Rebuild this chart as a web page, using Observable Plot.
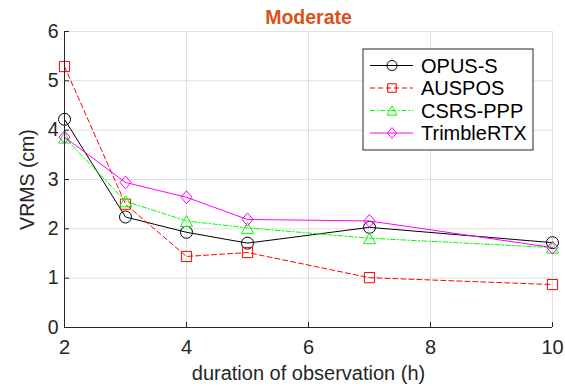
<!DOCTYPE html>
<html>
<head>
<meta charset="utf-8">
<script src="https://cdn.jsdelivr.net/npm/d3@7"></script>
<script src="https://cdn.jsdelivr.net/npm/@observablehq/plot@0.6"></script>
<style>
  html, body { margin: 0; padding: 0; background: #fff; }
  #chart svg { display: block; }
</style>
</head>
<body>
<div id="chart"></div>
<script>
// Observation durations (hours)
const hours = [2, 3, 4, 5, 7, 10];

// Vertical RMS error (cm) per processing service
const opusS = [4.22, 2.24, 1.93, 1.71, 2.03, 1.72];
const auspos = [5.29, 2.50, 1.44, 1.52, 1.01, 0.87];
const csrsPPP = [3.85, 2.56, 2.16, 2.02, 1.81, 1.62];
const trimbleRTX = [3.86, 2.94, 2.64, 2.19, 2.16, 1.62];

const seriesNames = ["OPUS-S", "AUSPOS", "CSRS-PPP", "TrimbleRTX"];
const seriesValues = [opusS, auspos, csrsPPP, trimbleRTX];

const xTicks = [2, 4, 6, 8, 10];
const yTicks = [0, 1, 2, 3, 4, 5, 6];

const titleText = "Moderate";
const xLabel = "duration of observation (h)";
const yLabel = "VRMS (cm)";

// Hollow marker shapes sized from the dot radius
const circleSym = {
  draw(ctx, size) {
    const r = Math.sqrt(size / Math.PI);
    ctx.moveTo(r, 0);
    ctx.arc(0, 0, r, 0, 2 * Math.PI);
  }
};
const squareSym = {
  draw(ctx, size) {
    const h = Math.sqrt(size / Math.PI) * 0.85;
    ctx.moveTo(-h, -h); ctx.lineTo(h, -h); ctx.lineTo(h, h); ctx.lineTo(-h, h); ctx.closePath();
  }
};
const triangleSym = {
  draw(ctx, size) {
    const r = Math.sqrt(size / Math.PI);
    const w = r, h = r * 0.92;
    ctx.moveTo(0, -h); ctx.lineTo(w, h); ctx.lineTo(-w, h); ctx.closePath();
  }
};
const diamondSym = {
  draw(ctx, size) {
    const r = Math.sqrt(size / Math.PI);
    const w = r * 0.92, h = r * 1.08;
    ctx.moveTo(0, -h); ctx.lineTo(w, 0); ctx.lineTo(0, h); ctx.lineTo(-w, 0); ctx.closePath();
  }
};

const styles = [
  {color: "#000000", dash: null, symbol: circleSym},
  {color: "#FF0000", dash: "5,3", symbol: squareSym},
  {color: "#00FF00", dash: "5,2,1.5,2", symbol: triangleSym},
  {color: "#FF00FF", dash: null, symbol: diamondSym}
];

const rows = seriesNames.map((name, k) =>
  hours.map((h, i) => ({series: name, hours: h, vrms: seriesValues[k][i]}))
);

const W = 565, H = 387;
const mTop = 31, mRight = 13, mBottom = 60, mLeft = 64;
const frameW = W - mLeft - mRight, frameH = H - mTop - mBottom;
const axisColor = "#262626";
const gridColor = "#dfdfdf";
const tickLen = 5;

const seriesMarks = rows.flatMap((data, k) => [
  Plot.line(data, {
    x: "hours", y: "vrms",
    stroke: styles[k].color, strokeWidth: 1,
    strokeDasharray: styles[k].dash
  }),
  Plot.dot(data, {
    x: "hours", y: "vrms", r: 6,
    symbol: styles[k].symbol,
    stroke: styles[k].color, strokeWidth: 1, fill: "none"
  })
]);

const plot = Plot.plot({
  width: W, height: H,
  marginTop: mTop, marginRight: mRight, marginBottom: mBottom, marginLeft: mLeft,
  style: {fontFamily: "'Liberation Sans', Arial, sans-serif", fontSize: "19.5px", color: axisColor, background: "#fff"},
  x: {domain: [2, 10]},
  y: {domain: [0, 6]},
  marks: [
    Plot.gridX(xTicks, {stroke: gridColor, strokeOpacity: 1}),
    Plot.gridY(yTicks, {stroke: gridColor, strokeOpacity: 1}),
    ...seriesMarks,
    Plot.ruleY([0], {stroke: axisColor, strokeWidth: 1}),
    Plot.ruleX([2], {stroke: axisColor, strokeWidth: 1}),
    Plot.tickX(xTicks, {x: d => d, insetTop: frameH - tickLen, stroke: axisColor}),
    Plot.tickY(yTicks, {y: d => d, insetRight: frameW - tickLen, stroke: axisColor}),
    Plot.axisX(xTicks, {
      tickSize: 0, tickPadding: 12, fontSize: 20,
      label: xLabel, labelAnchor: "center", labelOffset: 52, labelArrow: "none"
    }),
    Plot.axisY(yTicks, {
      tickSize: 0, tickPadding: 6, fontSize: 19.5,
      label: yLabel, labelAnchor: "center", labelOffset: 44, labelArrow: "none"
    }),
    Plot.text([titleText], {
      frameAnchor: "top", dy: -8, lineAnchor: "bottom",
      fontSize: 19.5, fontWeight: "bold", fill: "#D95319"
    })
  ]
});

// Legend box in the upper right of the frame
const svg = d3.select(plot);
const leg = svg.append("g").attr("transform", "translate(363,49)");
leg.append("rect").attr("width", 170).attr("height", 101)
  .attr("fill", "#fff").attr("stroke", axisColor).attr("stroke-width", 1);
seriesNames.forEach((name, k) => {
  const yy = 16.5 + k * 22.5;
  const s = styles[k];
  leg.append("line").attr("x1", 7).attr("x2", 50).attr("y1", yy).attr("y2", yy)
    .attr("stroke", s.color).attr("stroke-width", 1)
    .attr("stroke-dasharray", s.dash);
  leg.append("path").attr("d", d3.symbol(s.symbol, Math.PI * 25)())
    .attr("transform", `translate(29,${yy})`)
    .attr("fill", "none").attr("stroke", s.color).attr("stroke-width", 1);
  leg.append("text").attr("x", 58).attr("y", yy).attr("dy", "0.35em")
    .attr("text-anchor", "start")
    .attr("fill", "#000").attr("font-size", 20).text(name);
});

document.getElementById("chart").appendChild(plot);
</script>
</body>
</html>
